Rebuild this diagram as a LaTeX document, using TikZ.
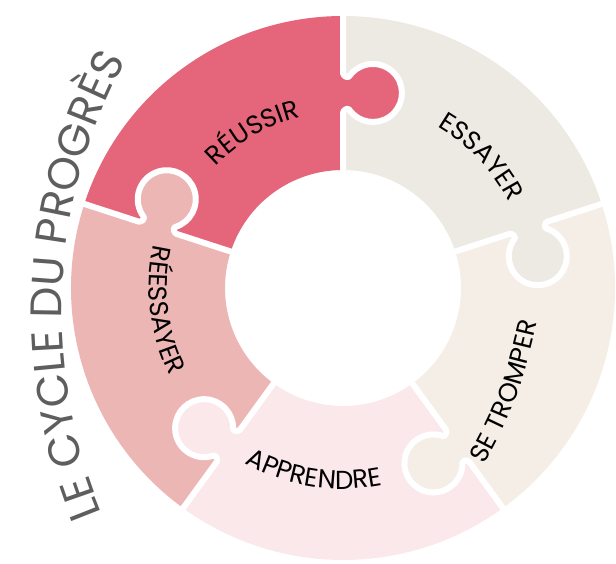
\documentclass[tikz,border=0pt]{standalone}
\usepackage{fontspec}
\setmainfont{Poppins}
\usetikzlibrary{decorations.text,calc}
\definecolor{cReu}{HTML}{E5657B}
\definecolor{cEss}{HTML}{ECEAE2}
\definecolor{cTro}{HTML}{F5EEE7}
\definecolor{cApp}{HTML}{FAE8EB}
\definecolor{cRee}{HTML}{ECB6B5}
\definecolor{cTitle}{HTML}{5E5E5E}
\tikzset{
  gapline/.style={white, line width=6pt, line join=round, line cap=round},
  lab/.style={decorate, decoration={text along path, text align=center, text color=black}},
  titlelab/.style={decorate, decoration={text along path, text align=center, text color=cTitle}}
}
\newcommand{\knobpath}{(175,0) to[out=0,in=35] (178.4,-6.2) arc[start angle=125,end angle=415,radius=29pt] to[out=145,in=180] (215,0)}
\begin{document}
\begin{tikzpicture}[x=1pt,y=1pt]
\useasboundingbox (0,0) rectangle (616,563);
\begin{scope}[shift={(343,275)}]
  % sectors
  \foreach \a/\col in {90/cReu, 18/cEss, -54/cTro, -126/cApp, 162/cRee} {
    \fill[\col] (\a:118) arc[start angle=\a, end angle=\a+72, radius=118pt]
      -- (\a+72:272) arc[start angle=\a+72, end angle=\a, radius=272pt] -- cycle;
  }
  % knobs
  \foreach \a/\col in {90/cReu, 18/cEss, -54/cTro, -126/cApp, 162/cRee} {
    \begin{scope}[rotate=\a]
      \fill[\col] (175,3) -- \knobpath -- (215,3) -- cycle;
    \end{scope}
  }
  % gaps
  \foreach \a in {90, 18, -54, -126, 162} {
    \begin{scope}[rotate=\a]
      \draw[gapline] (105,0) -- \knobpath -- (285,0);
    \end{scope}
  }
  % labels
  \path[lab, decoration={text={|\fontsize{26}{30}\selectfont|RÉUSSIR}}]
    (155:176) arc[start angle=155, end angle=85, radius=176pt];
  \path[lab, decoration={text={|\fontsize{26}{30}\selectfont|ESSAYER}}]
    (78:187) arc[start angle=78, end angle=9, radius=187pt];
  \path[lab, decoration={text={|\fontsize{26}{30}\selectfont|SE TROMPER}}]
    (122,-212) .. controls (176,-114) .. (203,5);
  \path[lab, decoration={text={|\fontsize{26}{30}\selectfont|APPRENDRE}}]
    (-140:201) arc[start angle=-140, end angle=-58, radius=201pt];
  \path[lab, decoration={text={|\fontsize{26}{30}\selectfont|RÉESSAYER}}]
    (153:194) arc[start angle=153, end angle=221, radius=194pt];
  % title
  \coordinate (tc) at (246,-24);
  \path[titlelab, decoration={text={|\fontsize{44}{50}\selectfont|LE CYCLE DU PROGRÈS}}]
    ($(tc)+(212:527)$) arc[start angle=212, end angle=142, radius=527pt];
\end{scope}
\end{tikzpicture}
\end{document}
